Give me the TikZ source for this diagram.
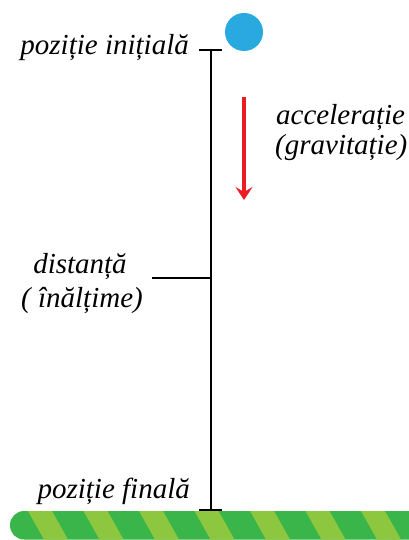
\documentclass[tikz,border=0pt]{standalone}
\usepackage{fontspec}
\setmainfont{Liberation Serif}
\usetikzlibrary{arrows.meta}
\definecolor{ballblue}{HTML}{29A9E0}
\definecolor{arrowred}{HTML}{ED1C24}
\definecolor{darkgreen}{HTML}{3AB54A}
\definecolor{lightgreen}{HTML}{8DC63F}
\begin{document}
\begin{tikzpicture}[x=1pt,y=-1pt,
  lbl/.style={font=\fontsize{29}{30}\selectfont\itshape, inner sep=0pt, align=center},
  ruler/.style={line width=1.1pt, black},
  accel/.style={line width=4pt, arrowred, -{Stealth[length=13pt,width=17pt,inset=5pt]}}]
\useasboundingbox (0,0) rectangle (409,540);
% ground bar
\begin{scope}
\clip[rounded corners=14pt] (10,511) rectangle (470,539.5);
\fill[darkgreen] (0,505) rectangle (470,545);
\foreach \k in {-1,0,...,8}{
  \pgfmathsetmacro{\s}{28+55.5*\k}
  \fill[lightgreen] (\s,511) -- (\s+24,511) -- (\s+40,539.5) -- (\s+16,539.5) -- cycle;
}
\end{scope}
% ball
\node[circle, fill=ballblue, minimum size=38pt, inner sep=0pt] (ball) at (244,32) {};
% ruler
\coordinate (top) at (211,50);
\coordinate (bot) at (211,510);
\coordinate (mid) at (211,278);
\coordinate (midL) at (152,278);
\coordinate (topL) at (199,50);
\coordinate (topR) at (222,50);
\coordinate (botL) at (199,510);
\coordinate (botR) at (222,510);
\draw[ruler] (top) -- (bot);
\draw[ruler] (topL) -- (topR);
\draw[ruler] (botL) -- (botR);
\draw[ruler] (midL) -- (mid);
% arrow
\coordinate (aTop) at (244,97);
\coordinate (aBot) at (244,200);
\draw[accel] (aTop) -- (aBot);
% labels
\node[lbl, anchor=base east] (initial) at (189,55) {poziție inițială};
\node[lbl, anchor=base east] (final) at (190,498) {poziție finală};
\node[lbl, anchor=base west, align=left] (acc) at (276,125) {accelerație};
\node[lbl, anchor=base west, align=left] (grav) at (275,155) {(gravitație)};
\node[lbl, anchor=base] (dist) at (80,273) {distanță};
\node[lbl, anchor=base] (inalt) at (82,307) {( înălțime)};
\end{tikzpicture}
\end{document}
